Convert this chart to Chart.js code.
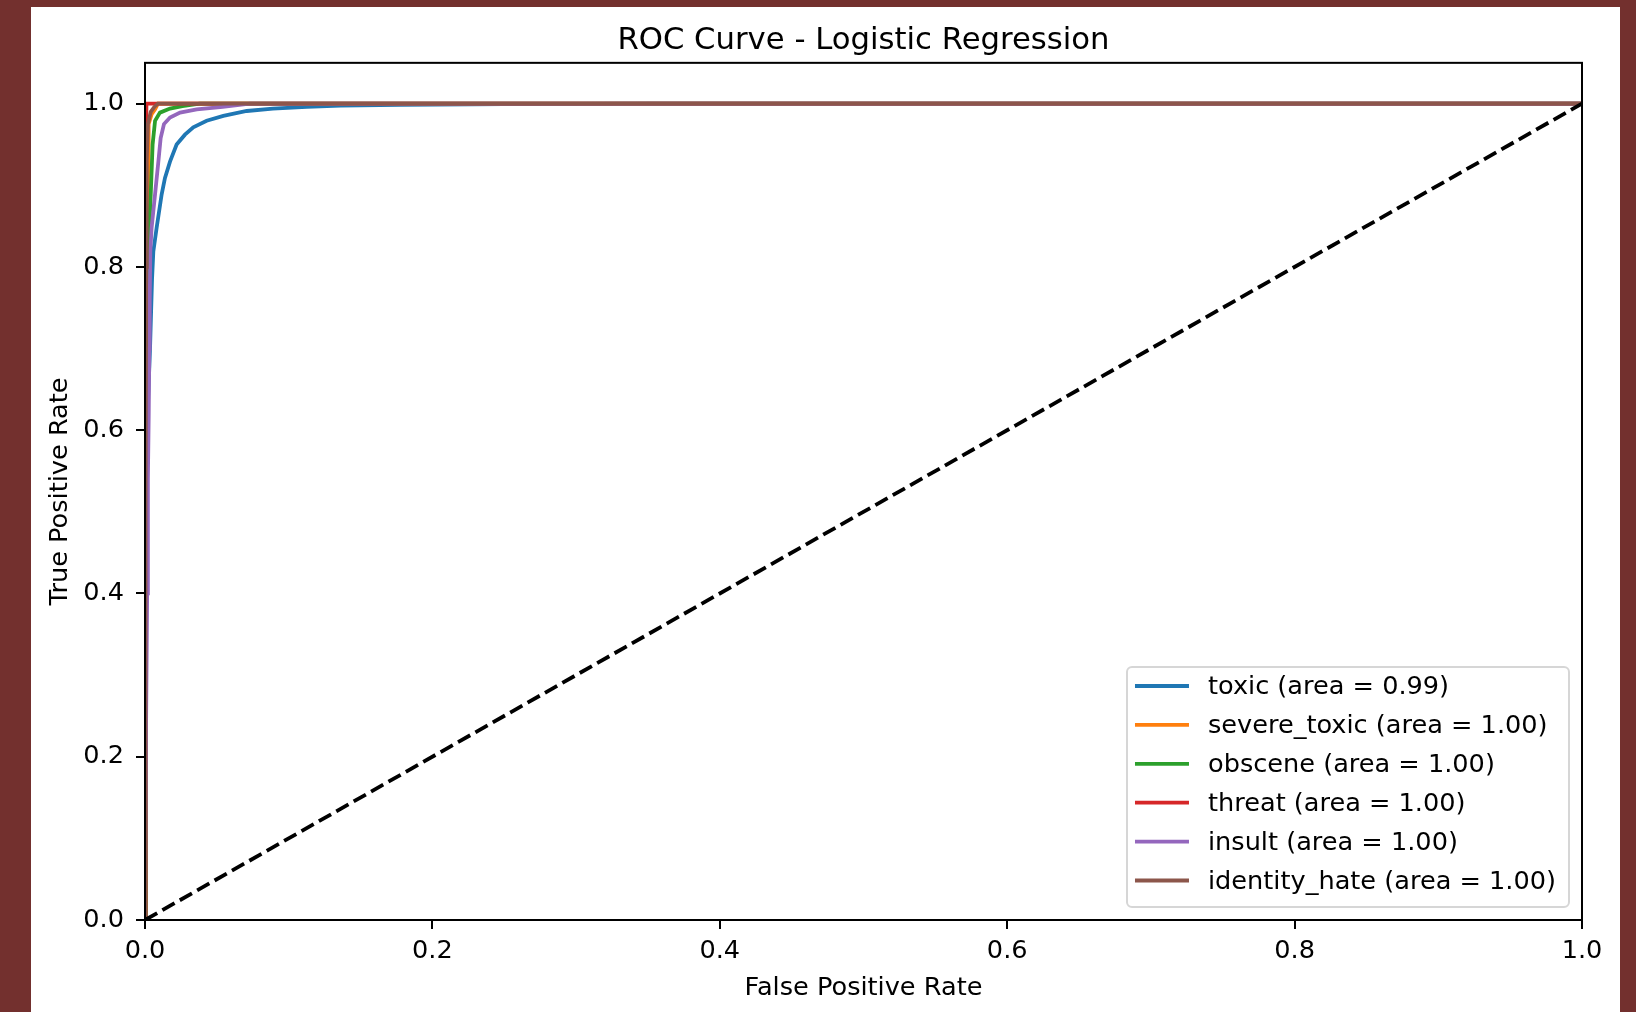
<!DOCTYPE html>
<html>
<head>
<meta charset="utf-8">
<title>ROC Curve - Logistic Regression</title>
<script src="https://cdn.jsdelivr.net/npm/chart.js@4"></script>
<style>
  html, body { margin: 0; padding: 0; background: #73302e; }
  body { width: 1636px; height: 1012px; position: relative; overflow: hidden; }
  #frame { position: absolute; left: 31px; top: 7px; width: 1589px; height: 1005px; background: #fff; }
</style>
</head>
<body>
<div id="frame"><canvas id="roc"></canvas></div>
<script>
// Labels, AUC scores and tab10 colours, one per class
const classNames = ['toxic', 'severe_toxic', 'obscene', 'threat', 'insult', 'identity_hate'];
const aucScores = [0.99, 1.00, 1.00, 1.00, 1.00, 1.00];
const seriesColors = ['#1f77b4', '#ff7f0e', '#2ca02c', '#d62728', '#9467bd', '#8c564b'];
const tickValues = [0.0, 0.2, 0.4, 0.6, 0.8, 1.0];

// ROC points (false positive rate / true positive rate) per class
const toxicFpr = [0.0, 0.0004, 0.0012, 0.0022, 0.0035, 0.0049, 0.0058, 0.0081, 0.0116, 0.0139, 0.0174, 0.022, 0.0278, 0.0336, 0.0429, 0.0545, 0.0708, 0.089, 0.1125, 0.136, 0.177, 0.25, 0.35, 1.0];
const toxicTpr = [0.0, 0.3, 0.52, 0.64, 0.70, 0.785, 0.819, 0.848, 0.889, 0.909, 0.929, 0.95, 0.962, 0.971, 0.979, 0.985, 0.991, 0.994, 0.996, 0.9975, 0.9985, 0.9995, 1.0, 1.0];

const severeFpr = [0.0, 0.0005, 0.001, 0.0016, 0.0023, 0.0025, 0.0046, 0.007, 0.009, 1.0];
const severeTpr = [0.0, 0.45, 0.7, 0.82, 0.9, 0.975, 0.987, 0.993, 1.0, 1.0];

const obsceneFpr = [0.0, 0.0005, 0.0012, 0.0018, 0.0023, 0.004, 0.0053, 0.007, 0.0104, 0.0174, 0.026, 0.038, 1.0];
const obsceneTpr = [0.0, 0.3, 0.6, 0.75, 0.819, 0.889, 0.95, 0.979, 0.989, 0.994, 0.997, 1.0, 1.0];

const threatFpr = [0.0, 0.0002, 0.0005, 0.001, 1.0];
const threatTpr = [0.0, 0.6, 0.9, 1.0, 1.0];

const insultFpr = [0.0, 0.0008, 0.0015, 0.002, 0.0026, 0.003, 0.0033, 0.0037, 0.0046, 0.007, 0.0093, 0.0109, 0.0132, 0.0174, 0.0244, 0.036, 0.054, 0.073, 1.0];
const insultTpr = [0.0, 0.25, 0.4, 0.54, 0.62, 0.70, 0.76, 0.819, 0.848, 0.889, 0.929, 0.958, 0.975, 0.983, 0.989, 0.993, 0.996, 1.0, 1.0];

const identityFpr = [0.0, 0.0004, 0.0008, 0.0012, 0.002, 0.004, 0.0065, 0.009, 1.0];
const identityTpr = [0.0, 0.5, 0.8, 0.93, 0.975, 0.99, 0.996, 1.0, 1.0];

// random classifier reference line
const chanceFpr = [0.0, 1.0];
const chanceTpr = [0.0, 1.0];

const curves = [
    [toxicFpr, toxicTpr],
    [severeFpr, severeTpr],
    [obsceneFpr, obsceneTpr],
    [threatFpr, threatTpr],
    [insultFpr, insultTpr],
    [identityFpr, identityTpr]
];

const toPoints = (xs, ys) => xs.map((x, i) => ({ x: x, y: ys[i] }));

const FONT = 'DejaVu Sans';
Chart.defaults.font.family = FONT;
Chart.defaults.color = '#000';

const datasets = classNames.map((name, i) => ({
    label: `${name} (area = ${aucScores[i].toFixed(2)})`,
    data: toPoints(curves[i][0], curves[i][1]),
    borderColor: seriesColors[i],
    borderWidth: 3.8,
    pointRadius: 0,
    showLine: true,
    fill: false,
    order: classNames.length - i   // later series drawn on top
}));

datasets.push({
    label: '',
    data: toPoints(chanceFpr, chanceTpr),
    borderColor: '#000',
    borderWidth: 3.8,
    borderDash: [14, 6],
    pointRadius: 0,
    showLine: true,
    fill: false,
    order: 0
});

// box around the plot area, drawn over the curves like matplotlib spines
const axesFrame = {
    id: 'axesFrame',
    afterDatasetsDraw(chart) {
        const { ctx, chartArea: a } = chart;
        ctx.save();
        ctx.strokeStyle = '#000';
        ctx.lineWidth = 2;
        ctx.strokeRect(a.left, a.top, a.right - a.left, a.bottom - a.top);
        ctx.restore();
    }
};

// framed legend in the lower right corner of the axes
const boxLegend = {
    id: 'boxLegend',
    afterDraw(chart) {
        const { ctx, chartArea: a } = chart;
        const items = chart.data.datasets.filter(d => d.label);
        const fontSize = 25.6;
        const rowGap = 38.9;
        ctx.save();
        ctx.font = `${fontSize}px "${FONT}"`;
        const textW = Math.max(...items.map(d => ctx.measureText(d.label).width));
        const w = 81 + textW + 13;
        const h = 240;
        const right = a.right - 13;
        const bottom = a.bottom - 13;
        const left = right - w;
        const top = bottom - h;

        ctx.beginPath();
        ctx.roundRect(left, top, w, h, 5);
        ctx.fillStyle = 'rgba(255, 255, 255, 0.8)';
        ctx.fill();
        ctx.strokeStyle = '#d6d6d6';
        ctx.lineWidth = 2;
        ctx.stroke();

        ctx.textBaseline = 'middle';
        ctx.textAlign = 'left';
        items.forEach((d, i) => {
            const y = top + 19 + i * rowGap;
            ctx.beginPath();
            ctx.moveTo(left + 8, y);
            ctx.lineTo(left + 62, y);
            ctx.strokeStyle = d.borderColor;
            ctx.lineWidth = 3.8;
            ctx.stroke();
            ctx.fillStyle = '#000';
            ctx.fillText(d.label, left + 81, y + 1.5);
        });
        ctx.restore();
    }
};

const axisTicks = scale => { scale.ticks = tickValues.map(v => ({ value: v })); };

const tickGrid = {
    display: true,
    drawOnChartArea: false,
    drawTicks: true,
    tickLength: 9,
    color: '#000',
    lineWidth: 2
};

new Chart(document.getElementById('roc'), {
    type: 'scatter',
    data: { datasets: datasets },
    plugins: [axesFrame, boxLegend],
    options: {
        responsive: true,
        maintainAspectRatio: false,
        animation: false,
        events: [],
        layout: { padding: { left: 0, top: 0, right: 38, bottom: 0 } },
        plugins: {
            legend: { display: false },
            tooltip: { enabled: false },
            title: {
                display: true,
                fullSize: false,   // centre over the plot area only
                text: 'ROC Curve - Logistic Regression',
                color: '#000',
                font: { size: 30.7, weight: 'normal' },
                padding: { top: 15.2, bottom: 3.8 }
            }
        },
        scales: {
            x: {
                type: 'linear',
                position: 'bottom',
                min: 0,
                max: 1,
                afterBuildTicks: axisTicks,
                afterFit: scale => { scale.height = 92; },
                ticks: {
                    font: { size: 25.6 },
                    padding: 7,
                    maxRotation: 0,
                    autoSkip: false,
                    callback: v => v.toFixed(1)
                },
                grid: tickGrid,
                border: { display: true, color: '#000', width: 2 },
                title: {
                    display: true,
                    text: 'False Positive Rate',
                    font: { size: 25.6 },
                    padding: { top: 0, bottom: 8.5 }
                }
            },
            y: {
                type: 'linear',
                position: 'left',
                min: 0,
                max: 1.05,
                afterBuildTicks: axisTicks,
                afterFit: scale => { scale.width = 114; },
                ticks: {
                    font: { size: 25.6 },
                    padding: 12,
                    autoSkip: false,
                    callback: v => v.toFixed(1)
                },
                grid: tickGrid,
                border: { display: true, color: '#000', width: 2 },
                title: {
                    display: true,
                    text: 'True Positive Rate',
                    font: { size: 25.6 },
                    padding: { top: 13.6, bottom: 0 }
                }
            }
        }
    }
});
</script>
</body>
</html>
